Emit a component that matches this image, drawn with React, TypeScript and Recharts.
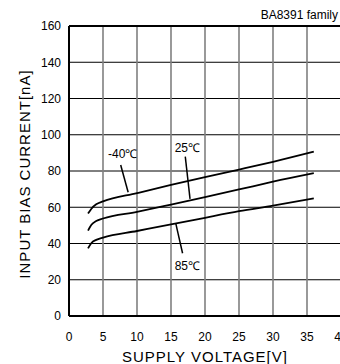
import React from 'react';
import {
  LineChart,
  Line,
  XAxis,
  YAxis,
  CartesianGrid,
  ReferenceLine,
  ReferenceDot,
} from 'recharts';

// Supply voltage [V] sample points
const voltage = [2.8, 3.3, 4, 5, 10, 15, 20, 25, 30, 36];
// Input bias current [nA] at each temperature
const currentMinus40 = [56.5, 59.2, 61.6, 63.2, 67.8, 72.3, 76.6, 80.8, 85.1, 90.7];
const current25 = [47.1, 50.3, 52.4, 53.8, 57.5, 61.5, 65.6, 69.8, 74.1, 78.8];
const current85 = [37.3, 40.3, 42.0, 43.3, 46.9, 50.5, 54.2, 57.8, 60.9, 64.9];

const xTicks = [0, 5, 10, 15, 20, 25, 30, 35, 40];
const yTicks = [0, 20, 40, 60, 80, 100, 120, 140, 160];

// Temperature callouts: text anchor point and leader line ends (data units)
const callouts = [
  { text: '-40\u2103', at: { x: 7.9, y: 89.4 }, from: { x: 7.6, y: 83.3 }, to: { x: 8.7, y: 68.3 } },
  { text: '25\u2103', at: { x: 17.4, y: 92.7 }, from: { x: 17.1, y: 87.9 }, to: { x: 17.8, y: 64.6 } },
  { text: '85\u2103', at: { x: 17.4, y: 27.6 }, from: { x: 15.7, y: 51.1 }, to: { x: 16.7, y: 34.6 } },
];

const data = voltage.map((v, i) => ({
  v,
  m40: currentMinus40[i],
  t25: current25[i],
  t85: current85[i],
}));

const FONT = '"Liberation Sans", Arial, sans-serif';

const YTitle = (props: any) => {
  const { viewBox } = props;
  const cx = viewBox.x + 24;
  const cy = viewBox.y + viewBox.height / 2 + 3;
  return (
    <text
      x={cx}
      y={cy}
      transform={`rotate(-90, ${cx}, ${cy})`}
      textAnchor="middle"
      dominantBaseline="central"
      fontSize={15}
      letterSpacing={1}
      fill="#000"
      fontFamily={FONT}
    >
      INPUT BIAS CURRENT[nA]
    </text>
  );
};

const XTitle = (props: any) => {
  const { viewBox } = props;
  return (
    <text
      x={viewBox.x + viewBox.width / 2}
      y={viewBox.y + 46}
      textAnchor="middle"
      fontSize={15}
      letterSpacing={1}
      fill="#000"
      fontFamily={FONT}
    >
      SUPPLY VOLTAGE[V]
    </text>
  );
};

export default function App() {
  return (
    <div
      style={{
        position: 'absolute',
        left: 0,
        top: 0,
        width: 340,
        height: 364,
        overflow: 'hidden',
        background: '#fff',
        fontFamily: FONT,
      }}
    >
      <div
        style={{
          position: 'absolute',
          right: 2,
          top: 8,
          fontSize: 12,
          color: '#000',
          lineHeight: '14px',
        }}
      >
        BA8391 family
      </div>
      <LineChart
        width={350}
        height={364}
        data={data}
        margin={{ top: 26, right: 9, bottom: 0, left: 0 }}
      >
        <CartesianGrid vertical={false} stroke="#000" strokeWidth={1} />
        <CartesianGrid horizontal={false} stroke="#808080" strokeWidth={1.6} />
        <XAxis
          type="number"
          dataKey="v"
          domain={[0, 40]}
          ticks={xTicks}
          height={48}
          tickLine={false}
          tickMargin={10}
          axisLine={{ stroke: '#000', strokeWidth: 2 }}
          tick={{ fill: '#000', fontSize: 12, fontFamily: FONT }}
          interval={0}
          label={<XTitle />}
        />
        <YAxis
          type="number"
          domain={[0, 160]}
          ticks={yTicks}
          width={69}
          tickLine={false}
          axisLine={{ stroke: '#000', strokeWidth: 2 }}
          tick={{ fill: '#000', fontSize: 12, fontFamily: FONT }}
          interval={0}
          label={<YTitle />}
        />
        <ReferenceLine y={160} stroke="#000" strokeWidth={2} />
        <Line type="monotone" dataKey="m40" stroke="#000" strokeWidth={1.8} dot={false} isAnimationActive={false} />
        <Line type="monotone" dataKey="t25" stroke="#000" strokeWidth={1.8} dot={false} isAnimationActive={false} />
        <Line type="monotone" dataKey="t85" stroke="#000" strokeWidth={1.8} dot={false} isAnimationActive={false} />
        {callouts.map((c) => (
          <ReferenceLine
            key={'l' + c.text}
            segment={[c.from, c.to]}
            stroke="#000"
            strokeWidth={1.5}
          />
        ))}
        {callouts.map((c) => (
          <ReferenceDot
            key={'d' + c.text}
            x={c.at.x}
            y={c.at.y}
            r={0}
            fill="none"
            stroke="none"
            label={{ value: c.text, position: 'center', fill: '#000', fontSize: 12, fontFamily: FONT }}
          />
        ))}
      </LineChart>
    </div>
  );
}
